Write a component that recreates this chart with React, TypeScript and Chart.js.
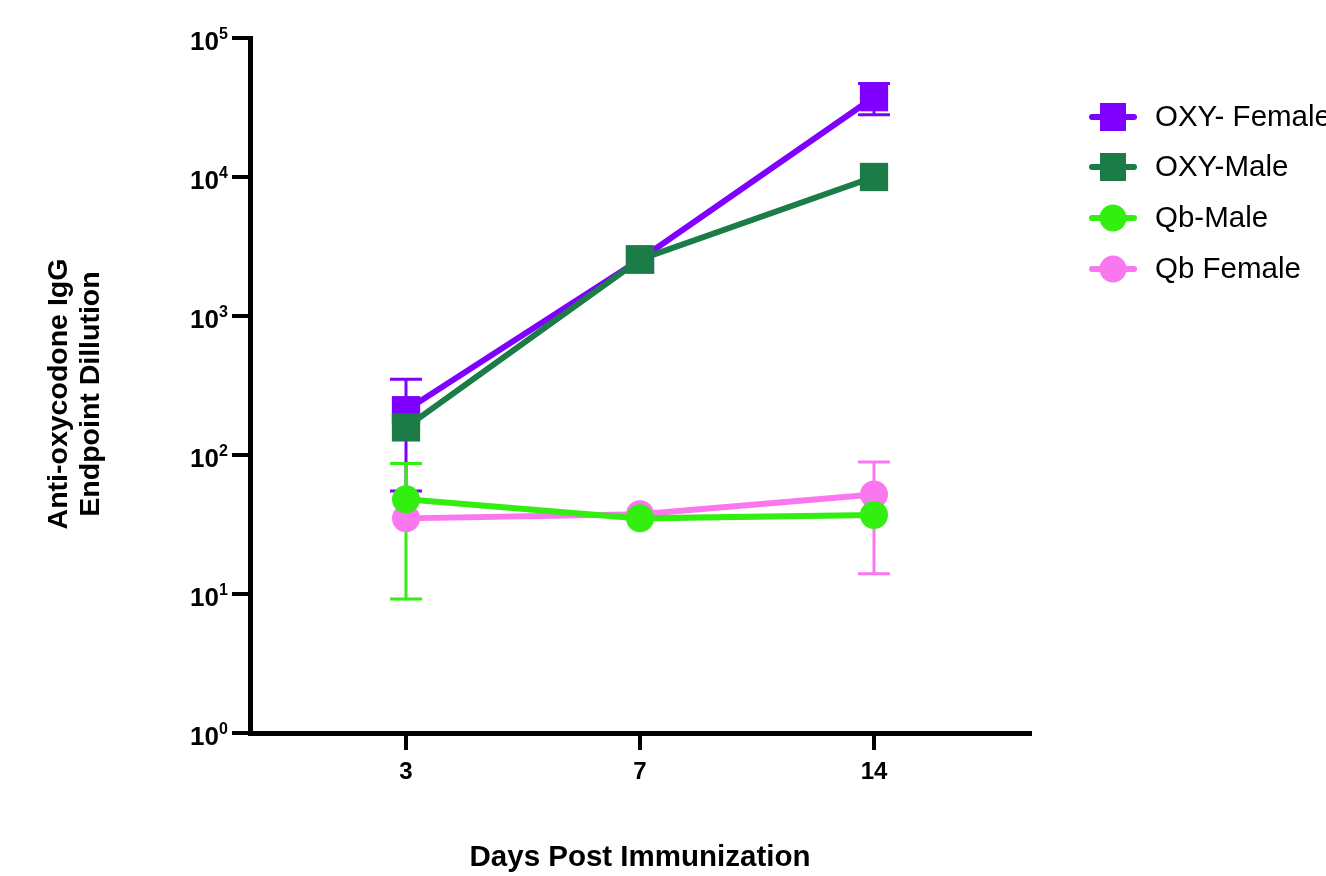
import React, { useEffect, useRef } from 'react';
import { Chart, registerables } from 'chart.js';
Chart.register(...registerables);

const categories = ['3', '7', '14'];
const yTickValues = [1, 10, 100, 1000, 10000, 100000];

const oxyFemale = [210, 2550, 37500];
const oxyFemaleLow = [55, null, 28000];
const oxyFemaleHigh = [350, null, 47000];

const oxyMale = [158, 2550, 10000];
const oxyMaleLow = [null, null, null];
const oxyMaleHigh = [null, null, null];

const qbMale = [48, 35, 37];
const qbMaleLow = [9.2, null, null];
const qbMaleHigh = [87, null, null];

const qbFemale = [35, 37.5, 52];
const qbFemaleLow = [null, null, 14];
const qbFemaleHigh = [null, null, 89];

const seriesNames = ['OXY- Female', 'OXY-Male', 'Qb-Male', 'Qb Female'];
const seriesColors = ['#8000ff', '#1b7c48', '#33ee11', '#fb77ef'];
const seriesShapes = ['rect', 'rect', 'circle', 'circle'];

const FONT = 'Arial, "Liberation Sans", Helvetica, sans-serif';

const seriesValues = [oxyFemale, oxyMale, qbMale, qbFemale];
const seriesLow = [oxyFemaleLow, oxyMaleLow, qbMaleLow, qbFemaleLow];
const seriesHigh = [oxyFemaleHigh, oxyMaleHigh, qbMaleHigh, qbFemaleHigh];

const errPlugin = {
  id: 'errbars',
  beforeDatasetsDraw(chart: any) {
    const ctx = chart.ctx;
    const xs = chart.scales.x;
    const ys = chart.scales.y;
    [0, 1, 3, 2].forEach((si) => {
      const low = seriesLow[si];
      const high = seriesHigh[si];
      low.forEach((lo: any, i: number) => {
        const hi = high[i];
        if (lo == null || hi == null) return;
        const px = xs.getPixelForValue(i);
        const y1 = ys.getPixelForValue(lo);
        const y2 = ys.getPixelForValue(hi);
        ctx.save();
        ctx.strokeStyle = seriesColors[si];
        ctx.lineWidth = 3;
        ctx.beginPath();
        ctx.moveTo(px, y1);
        ctx.lineTo(px, y2);
        ctx.moveTo(px - 16, y1);
        ctx.lineTo(px + 16, y1);
        ctx.moveTo(px - 16, y2);
        ctx.lineTo(px + 16, y2);
        ctx.stroke();
        ctx.restore();
      });
    });
  },
};

const decorPlugin = {
  id: 'decor',
  afterDraw(chart: any) {
    const ctx = chart.ctx;
    const ys = chart.scales.y;
    ctx.save();
    ctx.fillStyle = '#000';
    // y tick labels 10^n
    yTickValues.forEach((v) => {
      const py = ys.getPixelForValue(v);
      const exp = String(Math.round(Math.log10(v)));
      ctx.font = `bold 16px ${FONT}`;
      ctx.textAlign = 'left';
      ctx.textBaseline = 'alphabetic';
      ctx.fillText(exp, 219, py + 1);
      ctx.font = `bold 26px ${FONT}`;
      ctx.textAlign = 'right';
      ctx.textBaseline = 'middle';
      ctx.fillText('10', 219, py + 5);
    });
    // y title
    ctx.font = `bold 28.5px ${FONT}`;
    ctx.textAlign = 'center';
    ctx.textBaseline = 'middle';
    ctx.save();
    ctx.translate(59, 394);
    ctx.rotate(-Math.PI / 2);
    ctx.fillText('Anti-oxycodone IgG', 0, 0);
    ctx.restore();
    ctx.save();
    ctx.translate(91, 394);
    ctx.rotate(-Math.PI / 2);
    ctx.fillText('Endpoint Dillution', 0, 0);
    ctx.restore();
    // x title
    ctx.font = `bold 29.5px ${FONT}`;
    ctx.textAlign = 'center';
    ctx.textBaseline = 'middle';
    ctx.fillText('Days Post Immunization', 640, 858);
    // legend
    const rows = [117, 167, 218, 269];
    seriesNames.forEach((name, i) => {
      const ry = rows[i];
      ctx.strokeStyle = seriesColors[i];
      ctx.fillStyle = seriesColors[i];
      ctx.lineWidth = 6;
      ctx.lineCap = 'round';
      ctx.beginPath();
      ctx.moveTo(1092, ry);
      ctx.lineTo(1134, ry);
      ctx.stroke();
      if (seriesShapes[i] === 'rect') {
        ctx.fillRect(1113 - 13, ry - 14, 26, 28);
      } else {
        ctx.beginPath();
        ctx.arc(1113, ry, 13.5, 0, Math.PI * 2);
        ctx.fill();
      }
      ctx.fillStyle = '#000';
      ctx.font = `29.5px ${FONT}`;
      ctx.textAlign = 'left';
      ctx.textBaseline = 'middle';
      ctx.fillText(name, 1155, ry + 1);
    });
    ctx.restore();
  },
};

export default function App() {
  const ref = useRef<HTMLCanvasElement | null>(null);
  useEffect(() => {
    if (!ref.current) return;
    const drawOrder = [3, 2, 0, 1];
    const datasets = seriesNames.map((name, si) => ({
      label: name,
      data: seriesValues[si].map((v, i) => ({ x: i, y: v })),
      borderColor: seriesColors[si],
      backgroundColor: seriesColors[si],
      pointBackgroundColor: seriesColors[si],
      pointBorderWidth: 0,
      pointStyle: seriesShapes[si],
      pointRadius: seriesShapes[si] === 'rect' ? 20 : 14,
      borderWidth: 6,
      tension: 0,
      order: drawOrder[si],
      clip: false as any,
    }));
    const chart = new Chart(ref.current, {
      type: 'line',
      data: { datasets },
      plugins: [errPlugin, decorPlugin],
      options: {
        responsive: false,
        animation: false,
        events: [],
        layout: { padding: { left: 0, top: 38, right: 296, bottom: 0 } },
        plugins: { legend: { display: false }, tooltip: { enabled: false } },
        scales: {
          x: {
            type: 'linear',
            min: -2 / 3,
            max: 8 / 3,
            afterBuildTicks: (s: any) => {
              s.ticks = categories.map((_, i) => ({ value: i }));
            },
            afterFit: (s: any) => {
              s.height = 143;
            },
            ticks: {
              callback: (v: any) => categories[Math.round(Number(v))] ?? '',
              font: { family: FONT, size: 24, weight: 'bold' },
              color: '#000',
              padding: 8,
            },
            grid: {
              drawOnChartArea: false,
              drawTicks: true,
              tickLength: 17,
              lineWidth: 4,
              color: '#000',
            },
            border: { display: true, width: 5, color: '#000' },
          },
          y: {
            type: 'logarithmic',
            min: 1,
            max: 100000,
            afterBuildTicks: (s: any) => {
              s.ticks = yTickValues.map((v) => ({ value: v }));
            },
            afterFit: (s: any) => {
              s.width = 250;
            },
            ticks: {
              callback: () => '',
              color: '#000',
            },
            grid: {
              drawOnChartArea: false,
              drawTicks: true,
              tickLength: 18,
              lineWidth: 4,
              color: '#000',
            },
            border: { display: true, width: 5, color: '#000' },
          },
        },
      } as any,
    });
    return () => chart.destroy();
  }, []);
  return (
    <div style={{ position: 'absolute', left: 0, top: 0, width: 1326, height: 876, background: '#fff' }}>
      <canvas ref={ref} width={1326} height={876} />
    </div>
  );
}
